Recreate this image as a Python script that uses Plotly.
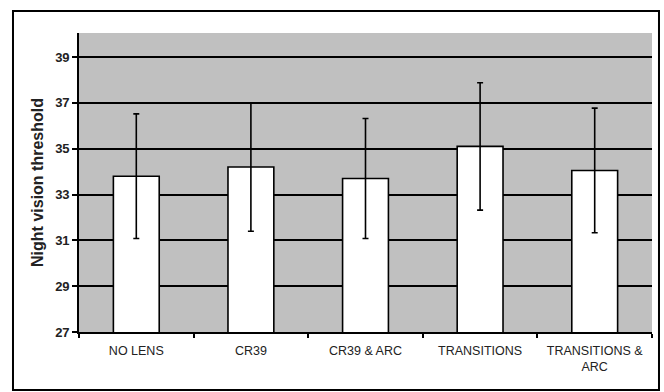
import plotly.graph_objects as go

categories = ["NO LENS", "CR39", "CR39 & ARC", "TRANSITIONS", "TRANSITIONS &<br>ARC"]
means = [33.8, 34.2, 33.7, 35.1, 34.05]
errors = [2.72, 2.8, 2.62, 2.78, 2.72]
y_ticks = [27, 29, 31, 33, 35, 37, 39]

fig = go.Figure()
fig.add_trace(go.Bar(
    x=categories, y=means,
    marker=dict(color="white", line=dict(color="black", width=1.6)),
    error_y=dict(type="data", array=errors, visible=True, color="black", thickness=1.6, width=3),
    width=0.4,
))

fig.update_layout(
    width=664, height=392,
    margin=dict(l=79, r=12, t=33, b=60),
    paper_bgcolor="white",
    plot_bgcolor="#c0c0c0",
    showlegend=False,
    font=dict(family="Liberation Sans, Arial", color="#222222"),
    xaxis=dict(
        type="category",
        tickson="boundaries",
        ticks="outside", ticklen=4, tickcolor="black", tickwidth=1.5,
        showline=True, linecolor="black", linewidth=1.6,
        showgrid=False,
        tickfont=dict(size=12.5),
        ticklabelstandoff=6,
    ),
    yaxis=dict(
        range=[27, 40.05],
        tickvals=y_ticks,
        ticks="outside", ticklen=5, tickcolor="black", tickwidth=1.5,
        showline=True, linecolor="black", linewidth=1.6,
        showgrid=True, gridcolor="black", gridwidth=1.6,
        zeroline=False,
        tickfont=dict(size=13, weight="bold"),
        title=dict(text="<b>Night vision threshold</b>", font=dict(size=16), standoff=8),
    ),
)

fig.add_shape(type="rect", xref="paper", yref="paper",
              x0=-0.1152, x1=1.0122, y0=-0.1940, y1=1.0736,
              line=dict(color="black", width=2), fillcolor="rgba(0,0,0,0)", layer="below")

fig.write_html("out.html", config={"displayModeBar": False},
               post_script="document.body.style.margin='0';document.body.style.overflow='hidden';")
